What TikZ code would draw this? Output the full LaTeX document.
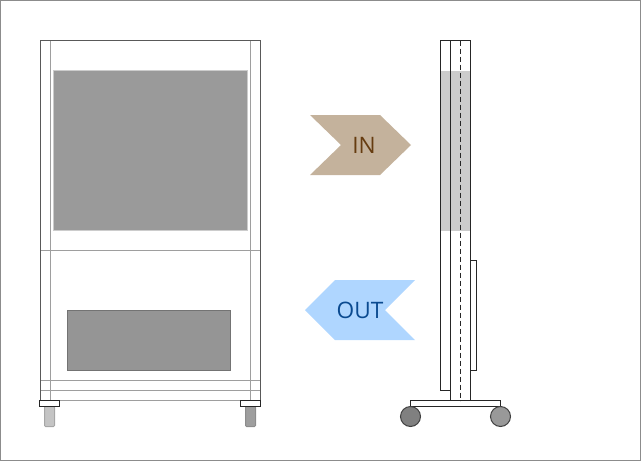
\documentclass[tikz,border=0pt]{standalone}
\usepackage{fontspec}
\setmainfont{Open Sans}
\definecolor{PanelGray}{HTML}{9A9A9A}
\definecolor{BandGray}{HTML}{CCCCCC}
\definecolor{InTan}{HTML}{C4B29C}
\definecolor{InText}{HTML}{663C10}
\definecolor{OutBlue}{HTML}{AFD6FF}
\definecolor{OutText}{HTML}{0A4A90}
\tikzset{
	frameline/.style={draw=black!65,line width=0.75pt},
	thinline/.style={draw=black!38,line width=0.75pt},
	sideline/.style={draw=black!85,line width=0.8pt},
	arrowlabel/.style={font=\fontsize{17pt}{18pt}\selectfont,inner sep=0pt}
}
\begin{document}
\begin{tikzpicture}[x=0.75pt,y=-0.75pt]
		\useasboundingbox (0,0) rectangle (642,461);
		% border
		\draw[black!45,line width=0.75pt] (0.5,0.5) rectangle (640.5,460.5);
		% front view, panels
		\fill[PanelGray,draw=black!20,line width=0.75pt] (53.5,70.5) rectangle (247.5,230.5);
		\fill[PanelGray!97!black,draw=black!55,line width=0.75pt] (67.5,310.5) rectangle (230.5,370.5);
		% front view, frame
		\draw[thinline] (50.5,40.5) -- (50.5,400.5);
		\draw[thinline] (250.5,40.5) -- (250.5,400.5);
		\draw[thinline] (40.5,250.5) -- (260.5,250.5);
		\draw[thinline] (40.5,380.5) -- (260.5,380.5);
		\draw[thinline] (40.5,390.5) -- (260.5,390.5);
		\draw[thinline] (40.5,400.5) -- (260.5,400.5);
		\draw[frameline] (40.5,400.5) -- (40.5,40.5) -- (260.5,40.5) -- (260.5,400.5);
		% front view, feet
		\fill[black!23,draw=black!35,line width=0.75pt,rounded corners=0.75pt] (44.5,406.5) rectangle (54.5,426.5);
		\fill[black!38,draw=black!45,line width=0.75pt,rounded corners=0.75pt] (245.5,406.5) rectangle (255.5,426.5);
		\fill[white,draw=black!85,line width=0.75pt] (39.5,400.5) rectangle (59.5,406.5);
		\fill[white,draw=black!85,line width=0.75pt] (240.5,400.5) rectangle (260.5,406.5);
		% arrows
		\fill[InTan] (310,115) -- (380,115) -- (411,145) -- (380,175) -- (310,175) -- (341,145) -- cycle;
		\node[arrowlabel,text=InText] (inlabel) at (364,145.5) {IN};
		\fill[OutBlue] (415,280) -- (335,280) -- (305,310) -- (335,340) -- (415,340) -- (385,310) -- cycle;
		\node[arrowlabel,text=OutText] (outlabel) at (360,310.5) {OUT};
		% side view
		\fill[BandGray] (440.5,70.5) rectangle (470.5,230.5);
		\draw[sideline] (450.5,390.5) -- (440.5,390.5) -- (440.5,40.5) -- (470.5,40.5) -- (470.5,400.5);
		\draw[sideline] (450.5,40.5) -- (450.5,400.5);
		\draw[sideline,dash pattern=on 3.75pt off 2.25pt] (460.5,40.5) -- (460.5,400.5);
		\draw[sideline] (470.5,260.5) -- (476.5,260.5) -- (476.5,370.5) -- (470.5,370.5);
		% base and wheels
		\draw[sideline] (410.5,400.5) rectangle (500.5,406.5);
		\fill[black!50,draw=black!75,line width=0.75pt] (410.5,416.5) circle (10);
		\fill[black!40,draw=black!75,line width=0.75pt] (500.5,416.5) circle (10);
	\end{tikzpicture}
\end{document}
